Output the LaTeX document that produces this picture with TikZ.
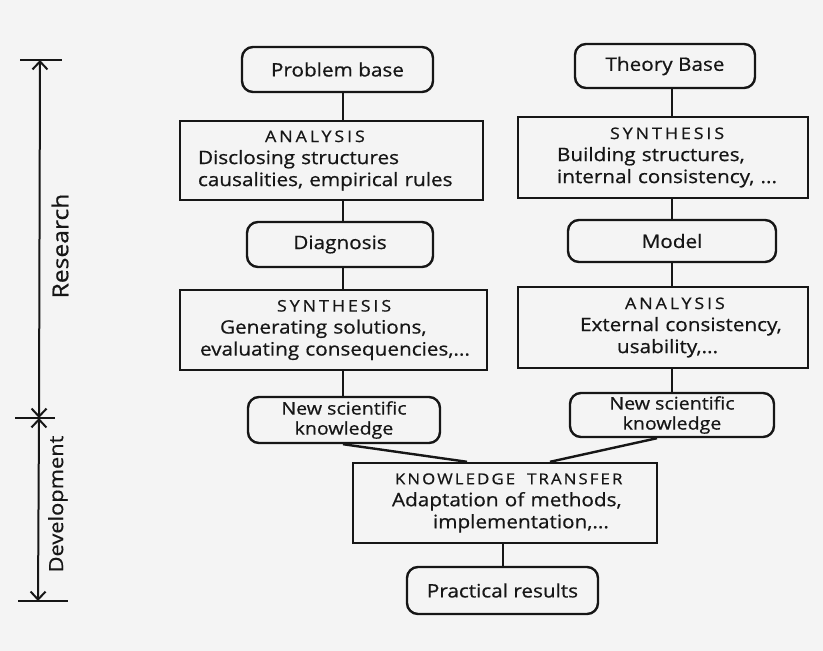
\documentclass[tikz,border=0pt]{standalone}
\usepackage{fontspec}
\setmainfont{Open Sans}[FakeStretch=1.12,FakeBold=0.6]
\usetikzlibrary{arrows.meta}
\definecolor{paper}{HTML}{F4F4F4}
\definecolor{ink}{HTML}{161616}
% small spaced capitals for the box headings
\newcommand\boxhead[1]{{\fontsize{16}{22}\selectfont\addfontfeature{LetterSpace=18}#1}}
\begin{document}
\begin{tikzpicture}[x=1pt,y=-1pt,
  every node/.style={text=ink},
  base/.style={draw=ink, line width=2.4pt, inner sep=0pt,
    font=\fontsize{18.5}{22}\selectfont},
  rbox/.style={base, rounded corners=11pt, align=center},
  sqbox/.style={base, align=left},
  link/.style={draw=ink, line width=2.4pt},
  dimline/.style={draw=ink, line width=2pt,
    {Straight Barb[length=8pt,width=15pt,line width=2pt]}-{Straight Barb[length=8pt,width=15pt,line width=2pt]}},
  tick/.style={draw=ink, line width=2pt},
  sidelabel/.style={rotate=90, font=\fontsize{22}{26}\selectfont}]
\fill[paper] (0,0) rectangle (823,651);
\useasboundingbox (0,0) rectangle (823,651);

% column axes
\coordinate (axL) at (343,0);
\coordinate (axR) at (672,0);
\coordinate (axB) at (503,0);

% left column: problem-oriented path
\node[rbox, minimum width=191pt, minimum height=45pt] (pb) at (337.5,69.5) {Problem base};
\node[sqbox, text width=303pt, minimum height=79pt] (an1) at (331.5,160.5)
  {\hspace*{85pt}\boxhead{ANALYSIS}\\\hspace*{18pt}\mbox{Disclosing structures}\\\hspace*{18pt}\mbox{causalities, empirical rules}};
\node[rbox, minimum width=186pt, minimum height=45pt] (dg) at (340,244.5) {Diagnosis};
\node[sqbox, text width=307pt, minimum height=80pt] (sy1) at (333.5,330)
  {\hspace*{97pt}\boxhead{SYNTHESIS}\\\hspace*{40pt}\mbox{Generating solutions,}\\\hspace*{20pt}\mbox{evaluating consequencies,...}};
\node[rbox, minimum width=192pt, minimum height=46pt, font=\fontsize{17.5}{20}\selectfont] (ns1) at (344,420) {New scientific\\knowledge};

% right column: theory-oriented path
\node[rbox, minimum width=180pt, minimum height=44pt] (tb) at (665,66) {Theory Base};
\node[sqbox, text width=290pt, minimum height=81pt] (sy2) at (663,157.5)
  {\hspace*{92pt}\boxhead{SYNTHESIS}\\\hspace*{39pt}\mbox{Building structures,}\\\hspace*{39pt}\mbox{internal consistency, ...}};
\node[rbox, minimum width=208pt, minimum height=42pt] (md) at (672,241) {Model};
\node[sqbox, text width=290pt, minimum height=81pt] (an2) at (663,327.5)
  {\hspace*{107pt}\boxhead{ANALYSIS}\\\hspace*{62pt}\mbox{External consistency,}\\\hspace*{99pt}\mbox{usability,...}};
\node[rbox, minimum width=204pt, minimum height=44pt, font=\fontsize{17.5}{20}\selectfont] (ns2) at (672,415) {New scientific\\knowledge};

% joint path
\node[sqbox, text width=304pt, minimum height=80pt] (kt) at (505,503)
  {\hspace*{42pt}{\fontsize{15}{22}\selectfont\addfontfeature{LetterSpace=14}KNOWLEDGE\hspace{12pt}TRANSFER}\\\hspace*{39pt}\mbox{Adaptation of methods,}\\\hspace*{80pt}\mbox{implementation,...}};
\node[rbox, minimum width=191pt, minimum height=47pt] (pr) at (502.5,590.5) {Practical results};

% connectors
\draw[link] (pb.south -| axL) -- (an1.north -| axL);
\draw[link] (an1.south -| axL) -- (dg.north -| axL);
\draw[link] (dg.south -| axL) -- (sy1.north -| axL);
\draw[link] (sy1.south -| axL) -- (ns1.north -| axL);
\draw[link] (tb.south -| axR) -- (sy2.north -| axR);
\draw[link] (sy2.south -| axR) -- (md.north -| axR);
\draw[link] (md.south -| axR) -- (an2.north -| axR);
\draw[link] (an2.south -| axR) -- (ns2.north -| axR);
\draw[link] (ns1.south -| axL) -- ([xshift=-38pt]kt.north);
\draw[link] ([xshift=-15pt]ns2.south) -- ([xshift=45pt]kt.north);
\draw[link] (kt.south -| axB) -- (pr.north -| axB);

% research / development scale
\coordinate (sTop) at (40,60);
\coordinate (sMid) at (39,418);
\coordinate (sBot) at (38,601);
\draw[dimline] (sTop) -- (sMid);
\draw[dimline] (sMid) -- (sBot);
\draw[tick] ([xshift=-20pt]sTop) -- ([xshift=22pt]sTop);
\draw[tick] ([xshift=-24pt]sMid) -- ([xshift=16pt]sMid);
\draw[tick] ([xshift=-20pt]sBot) -- ([xshift=30pt]sBot);
\node[sidelabel] (res) at (60,246) {Research};
\node[sidelabel, font=\fontsize{19.5}{22}\selectfont] (dev) at (58,504) {Development};
\end{tikzpicture}
\end{document}
